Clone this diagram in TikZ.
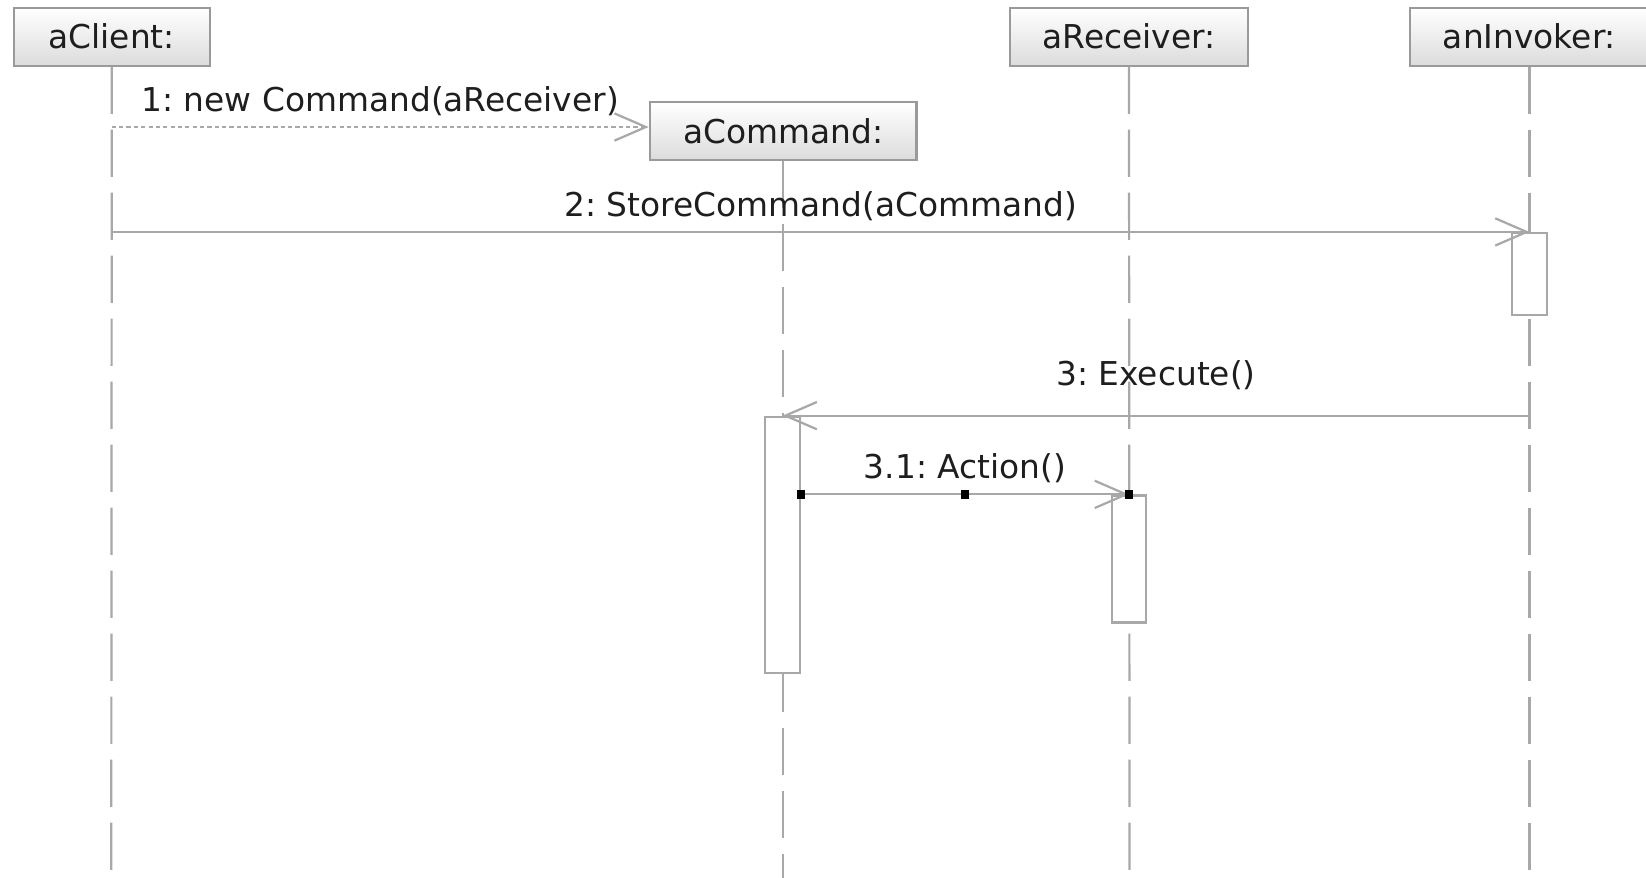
\documentclass[tikz,border=0pt]{standalone}
\usepackage{fontspec}
\setmainfont{DejaVu Sans}
\usepackage{tikz}
\usepackage{xcolor}
\usetikzlibrary{positioning, arrows.meta, calc}
\frenchspacing
\definecolor{lineGray}{HTML}{A8A8A8}
\definecolor{boxGray}{HTML}{9A9A9A}
\definecolor{shadeGray}{HTML}{DCDCDC}
\definecolor{textDark}{HTML}{1E1E1E}
\tikzstyle{object} = [rectangle, minimum height=0.55cm, text centered, draw=boxGray, line width=0.6pt, top color=white, bottom color=shadeGray, text=textDark, font=\fontsize{8.9}{10}\selectfont]
\tikzstyle{activation} = [rectangle, minimum width=0.33cm, inner sep=0pt, draw=lineGray, line width=0.6pt, fill=white]
\tikzstyle{lifeline} = [draw=lineGray, line width=0.6pt, dash pattern=on 0.45cm off 0.15cm]
\tikzstyle{call} = [draw=lineGray, line width=0.6pt, -{Straight Barb[length=0.3cm, width=0.26cm]}]
\tikzstyle{create} = [call, dash pattern=on 0.04cm off 0.03cm]
\tikzstyle{msg} = [text=textDark, font=\fontsize{8.9}{10}\selectfont, yshift=-0.02cm]
\tikzstyle{handle} = [rectangle, fill=black, minimum size=0.08cm, inner sep=0pt]

\begin{document}
\begin{tikzpicture}[x=0.1mm, y=-0.1mm]
    \useasboundingbox (0,0) rectangle (1568,836);
    % objects
    \node (client) [object, minimum width=1.87cm] at (106.5,35) {aClient:};
    \node (command) [object, minimum width=2.54cm] at (746,125) {aCommand:};
    \node (receiver) [object, minimum width=2.27cm] at (1075.5,35) {aReceiver:};
    \node (invoker) [object, minimum width=2.27cm] at (1457,35) {anInvoker:};
    \coordinate (clientEnd) at (106,840);
    \coordinate (commandEnd) at (746,840);
    \coordinate (receiverEnd) at (1076,840);
    \coordinate (invokerEnd) at (1457,840);
    % lifelines
    \draw[lifeline] (client.south)--(clientEnd);
    \draw[lifeline] (command.south)--(commandEnd);
    \draw[lifeline] (receiver.south)--(receiverEnd);
    \draw[lifeline] (invoker.south)--(invokerEnd);
    % activations
    \node (actInv) [activation, minimum height=0.78cm] at (1457,261) {};
    \node (actCmd) [activation, minimum height=2.44cm] at (745.5,519) {};
    \node (actRcv) [activation, minimum height=1.21cm] at (1075.5,532.5) {};
    % messages
    \draw[create] (client.south |- 0,121)--(command.west |- 0,121) node[midway,above,msg] {1: new Command(aReceiver)};
    \draw[call] (client.south |- actInv.north)--(actInv.north) node[midway,above,msg] {2: StoreCommand(aCommand)};
    \draw[call] (invoker.south |- actCmd.north)--(actCmd.north) node[midway,above,msg,yshift=0.14cm] {3: Execute()};
    \draw[call] (actCmd.east |- actRcv.north)--(actRcv.north) node[midway,above,msg] {3.1: Action()};
    \node (h1) [handle] at (actCmd.east |- actRcv.north) {};
    \node (h2) [handle] at ($(actCmd.east |- actRcv.north)!0.5!(actRcv.north)$) {};
    \node (h3) [handle] at (actRcv.north) {};
\end{tikzpicture}
\end{document}
